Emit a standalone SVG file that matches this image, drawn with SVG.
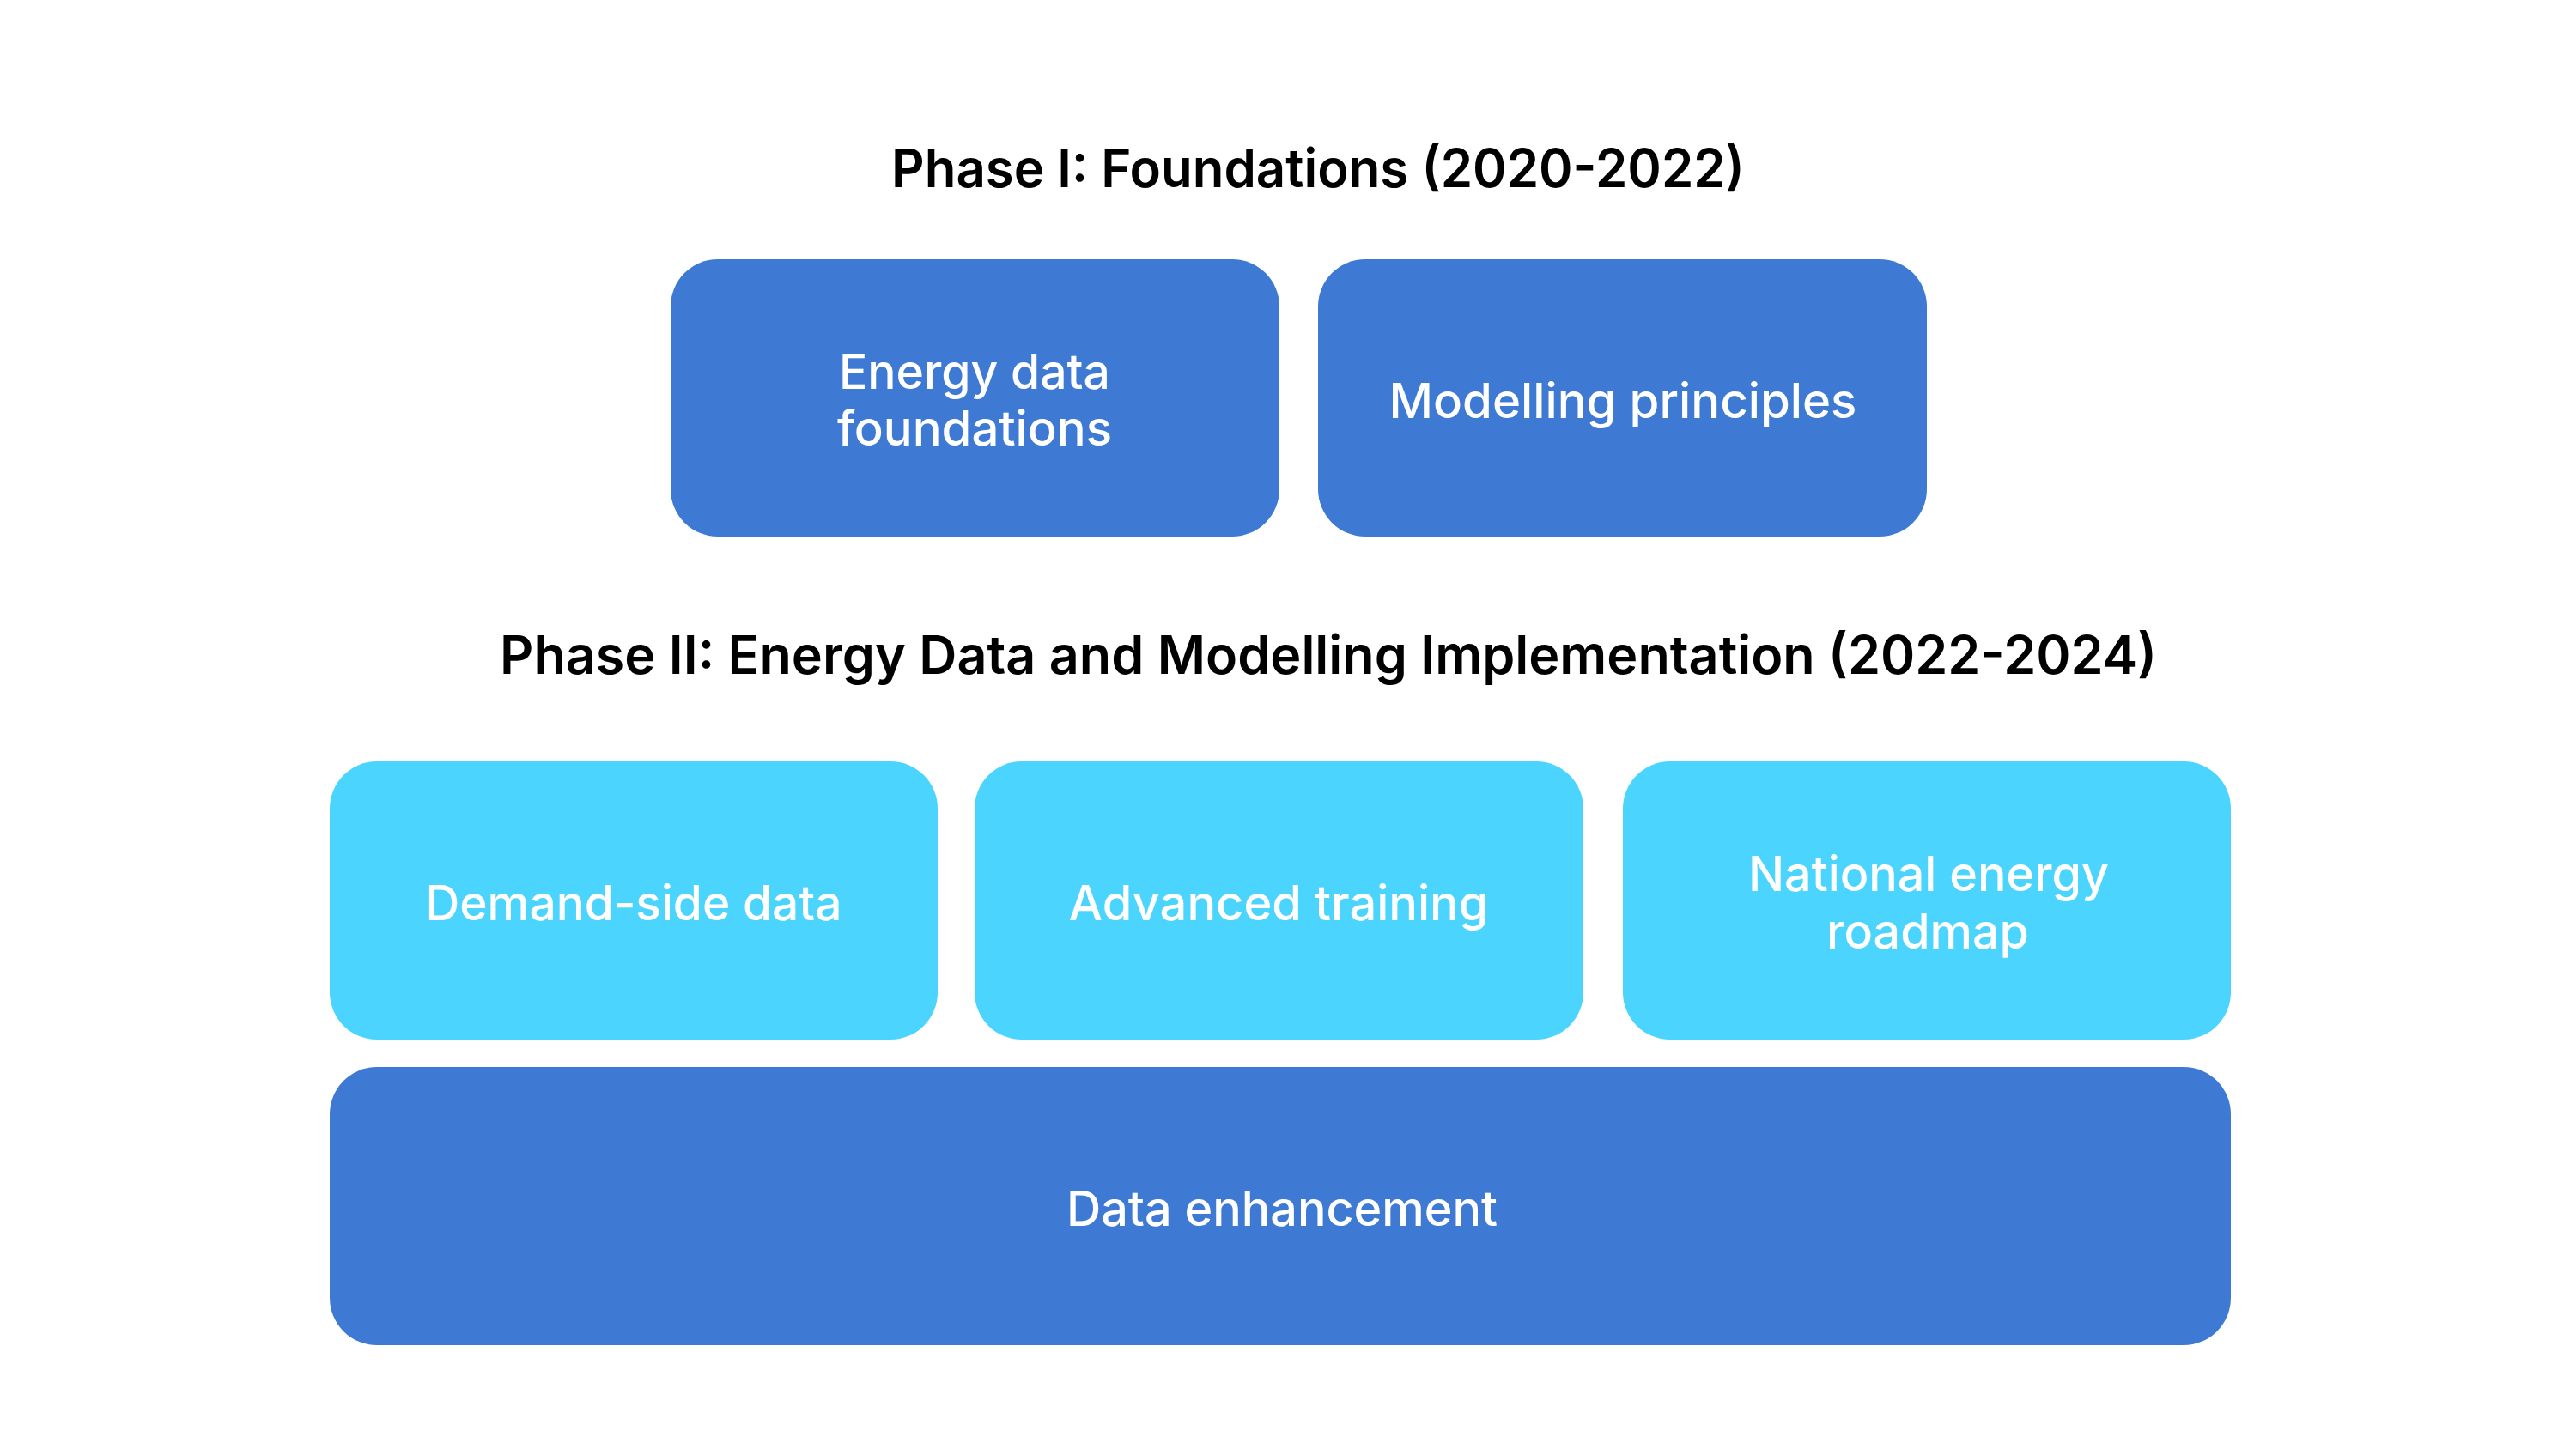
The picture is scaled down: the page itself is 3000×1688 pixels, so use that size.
<svg xmlns="http://www.w3.org/2000/svg" width="3000" height="1688" viewBox="0 0 3000 1688">
  <style>
    .title { font-family: Inter, "Liberation Sans", sans-serif; font-size: 62px; font-weight: 600; fill: #000000; }
    .label { font-family: Inter, "Liberation Sans", sans-serif; font-size: 56px; font-weight: 500; fill: #FFFFFF; text-anchor: middle; }
    .dark { fill: #3E7AD4; }
    .light { fill: #4AD4FE; }
  </style>
  <rect width="3000" height="1688" fill="#FFFFFF"/>
  <g id="titles">
    <text id="phase1-title" class="title" x="1038" y="218" textLength="994" lengthAdjust="spacingAndGlyphs">Phase I: Foundations (2020-2022)</text>
    <text id="phase2-title" class="title" x="582" y="785" textLength="1930" lengthAdjust="spacingAndGlyphs">Phase II: Energy Data and Modelling Implementation (2022-2024)</text>
  </g>
  <g id="node-energy-data-foundations">
    <rect class="dark" x="781" y="302" width="709" height="323" rx="55" ry="55"/>
    <text class="label" x="1135" y="453" textLength="316" lengthAdjust="spacingAndGlyphs">Energy data</text>
    <text class="label" x="1135" y="519" textLength="320" lengthAdjust="spacingAndGlyphs">foundations</text>
  </g>
  <g id="node-modelling-principles">
    <rect class="dark" x="1535" y="302" width="709" height="323" rx="55" ry="55"/>
    <text class="label" x="1890" y="487" textLength="545" lengthAdjust="spacingAndGlyphs">Modelling principles</text>
  </g>
  <g id="node-demand-side-data">
    <rect class="light" x="384" y="887" width="708" height="324" rx="55" ry="55"/>
    <text class="label" x="738" y="1072" textLength="485" lengthAdjust="spacingAndGlyphs">Demand-side data</text>
  </g>
  <g id="node-advanced-training">
    <rect class="light" x="1135" y="887" width="709" height="324" rx="55" ry="55"/>
    <text class="label" x="1489" y="1072" textLength="489" lengthAdjust="spacingAndGlyphs">Advanced training</text>
  </g>
  <g id="node-national-energy-roadmap">
    <rect class="light" x="1890" y="887" width="708" height="324" rx="55" ry="55"/>
    <text class="label" x="2246" y="1038" textLength="420" lengthAdjust="spacingAndGlyphs">National energy</text>
    <text class="label" x="2245" y="1105" textLength="236" lengthAdjust="spacingAndGlyphs">roadmap</text>
  </g>
  <g id="node-data-enhancement">
    <rect class="dark" x="384" y="1243" width="2214" height="324" rx="55" ry="55"/>
    <text class="label" x="1493" y="1428" textLength="502" lengthAdjust="spacingAndGlyphs">Data enhancement</text>
  </g>
  <g id="connectors"></g>
</svg>
